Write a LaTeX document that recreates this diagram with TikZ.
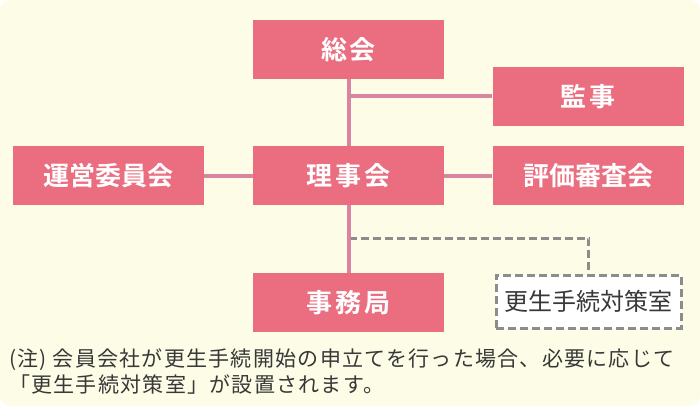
\documentclass[tikz,border=0pt]{standalone}
\usepackage{fontspec}
\setmainfont{Noto Sans CJK JP}[BoldFont={Noto Sans CJK JP Bold}]
\newfontfamily\spacedjp{Noto Sans CJK JP Bold}[LetterSpace=10]
\newfontfamily\notejp{Noto Sans CJK JP}[LetterSpace=6]
\usepackage{tikz}

\definecolor{bgcream}{HTML}{FDFCE6}
\definecolor{boxpink}{HTML}{EB6E80}
\definecolor{linkpink}{HTML}{D985A2}
\definecolor{dashgray}{HTML}{8C8C8C}
\definecolor{textgray}{HTML}{383838}

\tikzset{
  orgbox/.style={fill=boxpink, text=white, minimum width=191pt, minimum height=59pt,
    inner sep=0pt, font=\fontsize{26}{30}\selectfont\bfseries},
  shortbox/.style={orgbox, font=\fontsize{26}{30}\spacedjp},
  optbox/.style={draw=dashgray, fill=white, line width=3pt, dash pattern=on 8pt off 4pt,
    text=textgray, minimum width=185pt, minimum height=53pt, inner sep=0pt,
    font=\fontsize{24}{28}\selectfont},
  link/.style={draw=linkpink, line width=4pt},
  dashlink/.style={draw=dashgray, line width=3pt, dash pattern=on 8pt off 4pt}
}

\begin{document}
\begin{tikzpicture}[x=1pt, y=-1pt]
  \useasboundingbox (0,0) rectangle (700,406);
  \fill[bgcream, rounded corners=10pt] (0,0) rectangle (700,406);

  % boxes
  \node[shortbox] (soukai) at (348.5,49.5) {総会};
  \node[shortbox] (kansa) at (588,96.5) {監事};
  \node[orgbox] (unei) at (108.5,175.5) {運営委員会};
  \node[shortbox] (rijikai) at (348.5,175.5) {理事会};
  \node[orgbox] (hyoka) at (588,175.5) {評価審査会};
  \node[shortbox] (jimukyoku) at (348.5,302.5) {事務局};
  \node[optbox] (kosei) at (588.5,301.5) {更生手続対策室};

  % connectors
  \coordinate (fork) at (348.5,238);
  \draw[dashlink] (fork) -| (kosei.north);
  \draw[link] (soukai) -- (rijikai);
  \draw[link] (soukai.south |- kansa.west) -- (kansa.west);
  \draw[link] (unei) -- (rijikai);
  \draw[link] (rijikai) -- (hyoka);
  \draw[link] (rijikai) -- (jimukyoku);

  % note
  \node[anchor=north west, align=left, inner sep=0pt, text=textgray,
    font=\fontsize{21}{26}\notejp] (note) at (9,349)
    {(注) 会員会社が更生手続開始の申立てを行った場合、必要に応じて\\「更生手続対策室」が設置されます。};
\end{tikzpicture}
\end{document}
